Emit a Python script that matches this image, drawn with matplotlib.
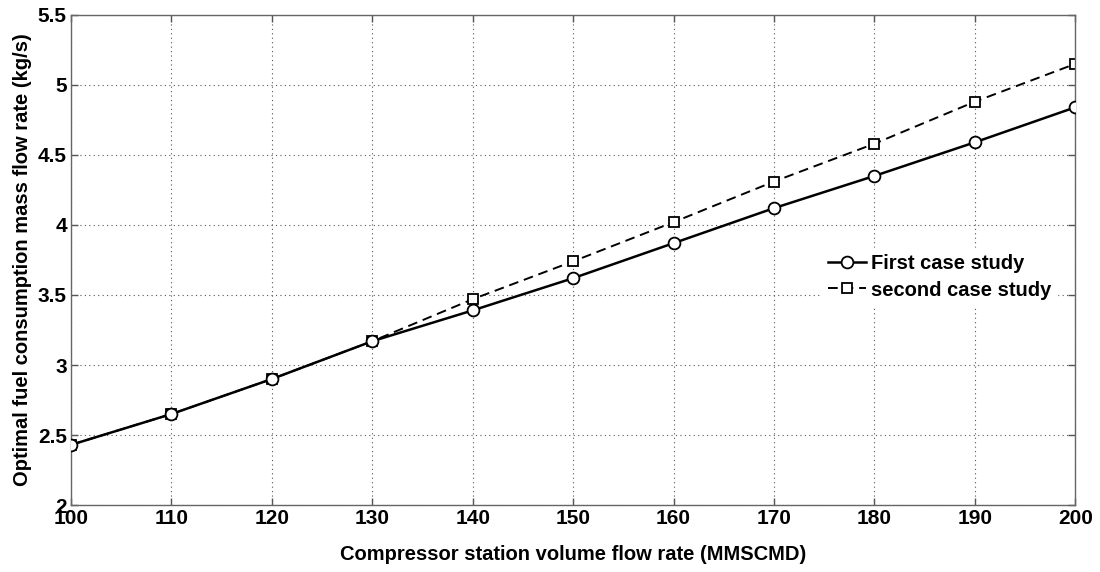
import matplotlib.pyplot as plt

plt.rcParams['font.family'] = ['Liberation Sans', 'DejaVu Sans']
plt.rcParams['font.weight'] = 'bold'

flow_rate = [100, 110, 120, 130, 140, 150, 160, 170, 180, 190, 200]
first_case = [2.43, 2.65, 2.90, 3.17, 3.39, 3.62, 3.87, 4.12, 4.35, 4.59, 4.84]
second_case = [2.43, 2.65, 2.90, 3.17, 3.47, 3.74, 4.02, 4.31, 4.58, 4.88, 5.15]

x_ticks = list(range(100, 201, 10))
y_ticks = [2, 2.5, 3, 3.5, 4, 4.5, 5, 5.5]
y_tick_labels = ["2", "2.5", "3", "3.5", "4", "4.5", "5", "5.5"]

fig = plt.figure(figsize=(11, 5.72), dpi=100)
ax = fig.add_axes([0.0645, 0.117, 0.913, 0.857])

ax.plot(flow_rate, first_case, color="black", linewidth=1.8, marker="o", markersize=8.5,
        markerfacecolor="white", markeredgecolor="black", markeredgewidth=1.3,
        label="First case study", zorder=3)
ax.plot(flow_rate, second_case, color="black", linewidth=1.4, linestyle=(0, (5, 3)), marker="s",
        markersize=7.5, markerfacecolor="white", markeredgecolor="black", markeredgewidth=1.3,
        label="second case study", zorder=2)

ax.set_xlim(100, 200)
ax.set_ylim(2, 5.5)
ax.set_xticks(x_ticks)
ax.set_yticks(y_ticks)
ax.set_yticklabels(y_tick_labels)
ax.tick_params(direction="in", length=5, width=1, color="#555555", labelsize=15,
               top=True, right=True, pad=3)
for lbl in ax.get_xticklabels() + ax.get_yticklabels():
    lbl.set_fontweight("bold")
for sp in ax.spines.values():
    sp.set_color("#666666")
    sp.set_linewidth(1)

ax.grid(True, linestyle=(0, (1, 3)), color="#555555", linewidth=0.8)

ax.set_xlabel("Compressor station volume flow rate (MMSCMD)", fontsize=14.5, fontweight="bold", labelpad=12)
ax.set_ylabel("Optimal fuel consumption mass flow rate (kg/s)", fontsize=14.5, fontweight="bold", labelpad=4)

leg = ax.legend(loc="upper left", bbox_to_anchor=(0.74, 0.54), frameon=True, fontsize=14.5,
                handlelength=1.9, handletextpad=0.2, borderpad=0.2, labelspacing=0.35)
leg.get_frame().set_edgecolor("white")
leg.get_frame().set_facecolor("white")
leg.get_frame().set_alpha(1)
leg.get_frame().set_boxstyle("square", pad=0.1)

fig.savefig("out.png", dpi=100)
